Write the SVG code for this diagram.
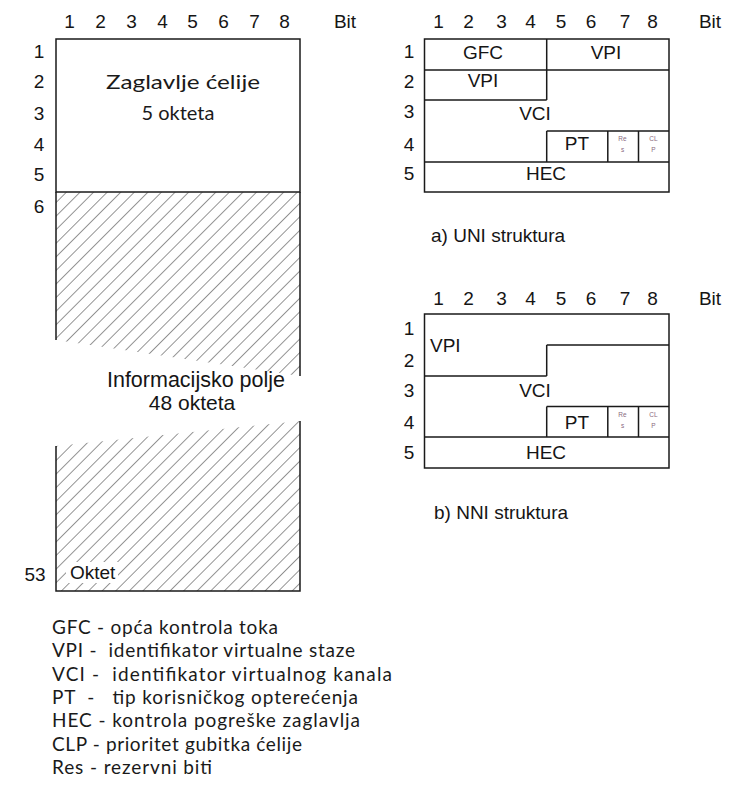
<svg xmlns="http://www.w3.org/2000/svg" width="729" height="787" viewBox="0 0 729 787">
<defs>
<pattern id="hatch" patternUnits="userSpaceOnUse" width="9.6" height="20" patternTransform="rotate(45)">
<line x1="0" y1="0" x2="0" y2="20" stroke="#2a2a2a" stroke-width="1"/>
</pattern>
</defs>
<style>
.ar{font-family:"Liberation Sans",Arial,sans-serif;font-size:19px;fill:#151515}
.ca{font-family:Lato,"Open Sans",sans-serif;font-size:20px;fill:#1a1a1a}
.lg{font-family:Lato,"Open Sans",sans-serif;font-size:19px;fill:#1a1a1a}
.mid{text-anchor:middle}
.ln{stroke:#1a1a1a;stroke-width:1.5;fill:none}
.sm{font-family:"Liberation Sans",Arial,sans-serif;font-size:6.5px;fill:#8a6a80;text-anchor:middle}
</style>
<rect width="729" height="787" fill="#fff"/>

<g id="cell">
<g class="ar mid">
<text x="69.5" y="28">1</text><text x="100.5" y="28">2</text><text x="131.5" y="28">3</text><text x="162.5" y="28">4</text><text x="192.5" y="28">5</text><text x="223.5" y="28">6</text><text x="254.5" y="28">7</text><text x="284.5" y="28">8</text>
<text x="345" y="28">Bit</text>
<text x="39" y="58">1</text><text x="39" y="88">2</text><text x="39" y="120">3</text><text x="39" y="151">4</text><text x="39" y="181">5</text><text x="39" y="213">6</text>
<text x="35" y="581">53</text>
</g>
<rect x="56" y="39" width="244" height="153" fill="#fff" class="ln"/>
<polygon points="56,192 300,192 300,376 56,340" fill="url(#hatch)"/>
<path class="ln" d="M56,192 V340 M300,192 V376"/>
<polygon points="56,446 300,421 300,591 56,591" fill="url(#hatch)"/>
<path class="ln" d="M56,446 V591 H300 V421"/>
<rect x="66" y="562" width="52" height="21" fill="#fff"/>
<text class="ar" x="70" y="579">Oktet</text>
<text class="ca" x="106" y="89" textLength="154" lengthAdjust="spacingAndGlyphs">Zaglavlje ćelije</text>
<text class="ca mid" x="178" y="120">5 okteta</text>
<text class="ar mid" x="196" y="387" style="font-size:21.5px">Informacijsko polje</text>
<text class="ar mid" x="192" y="410" style="font-size:21px">48 okteta</text>
</g>

<g id="uni">
<g class="ar mid">
<text x="438.5" y="28">1</text><text x="468.5" y="28">2</text><text x="501.5" y="28">3</text><text x="530.5" y="28">4</text><text x="561" y="28">5</text><text x="591" y="28">6</text><text x="625" y="28">7</text><text x="652.5" y="28">8</text>
<text x="710" y="28">Bit</text>
<text x="409" y="58">1</text><text x="409" y="88">2</text><text x="409" y="118">3</text><text x="409" y="151">4</text><text x="409" y="180">5</text>
<text x="483" y="58.5">GFC</text><text x="606" y="58.5">VPI</text>
<text x="483" y="87">VPI</text>
<text x="535" y="120">VCI</text>
<text x="577" y="150">PT</text>
<text x="546" y="180">HEC</text>
</g>
<rect x="424.5" y="39" width="244.5" height="153" class="ln"/>
<path class="ln" d="M424.5,70 H669 M546.7,39 V100 M424.5,100 H546.7 M546.7,131 H669 M546.7,131 V162 M607.8,131 V162 M638.5,131 V162 M424.5,162 H669"/>
<text class="sm" x="622.5" y="141">Re</text><text class="sm" x="622.5" y="152">s</text>
<text class="sm" x="653.5" y="141">CL</text><text class="sm" x="653.5" y="152">P</text>
<text class="ar" x="431" y="242">a) UNI struktura</text>
</g>

<g id="nni">
<g class="ar mid">
<text x="438.5" y="305">1</text><text x="468.5" y="305">2</text><text x="501.5" y="305">3</text><text x="530.5" y="305">4</text><text x="561" y="305">5</text><text x="591" y="305">6</text><text x="625" y="305">7</text><text x="652.5" y="305">8</text>
<text x="710" y="305">Bit</text>
<text x="409" y="335">1</text><text x="409" y="367">2</text><text x="409" y="397">3</text><text x="409" y="428.5">4</text><text x="409" y="458.5">5</text>
<text x="535" y="397">VCI</text>
<text x="577" y="428.5">PT</text>
<text x="546" y="458.5">HEC</text>
</g>
<text class="ar" x="430" y="352">VPI</text>
<rect x="424.5" y="314" width="244.5" height="154" class="ln"/>
<path class="ln" d="M546.7,345 H669 M546.7,345 V376 M424.5,376 H546.7 M546.7,406.5 H669 M546.7,406.5 V437 M607.8,406.5 V437 M638.5,406.5 V437 M424.5,437 H669"/>
<text class="sm" x="622.5" y="417">Re</text><text class="sm" x="622.5" y="428">s</text>
<text class="sm" x="653.5" y="417">CL</text><text class="sm" x="653.5" y="428">P</text>
<text class="ar" x="434" y="519">b) NNI struktura</text>
</g>

<g id="legend" class="lg">
<text x="52" y="634" textLength="226" lengthAdjust="spacing">GFC - opća kontrola toka</text>
<text x="52" y="657.3" textLength="303" lengthAdjust="spacing">VPI -&#160; identifikator virtualne staze</text>
<text x="52" y="680.6" textLength="340" lengthAdjust="spacing">VCI -&#160; identifikator virtualnog kanala</text>
<text x="52" y="703.9" textLength="306" lengthAdjust="spacing">PT &#160;- &#160; tip korisničkog opterećenja</text>
<text x="52" y="727.2" textLength="308" lengthAdjust="spacing">HEC - kontrola pogreške zaglavlja</text>
<text x="52" y="750.5" textLength="250" lengthAdjust="spacing">CLP - prioritet gubitka ćelije</text>
<text x="52" y="773.8" textLength="160" lengthAdjust="spacing">Res - rezervni biti</text>
</g>
</svg>
